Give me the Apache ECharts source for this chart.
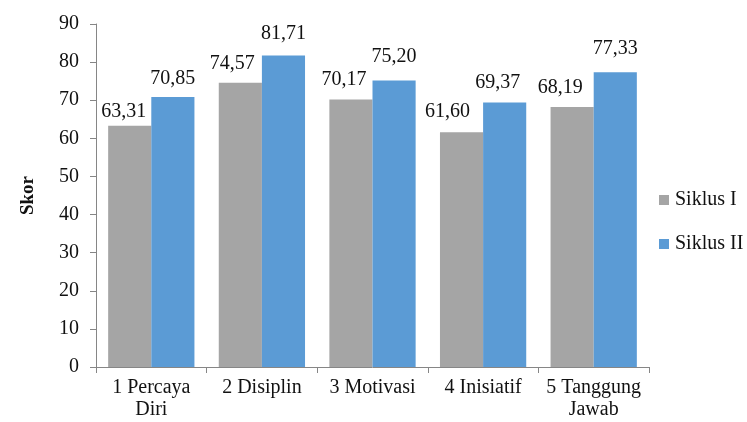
<!DOCTYPE html>
<html>
<head>
<meta charset="utf-8">
<script src="https://cdn.jsdelivr.net/npm/echarts@6/dist/echarts.min.js"></script>
<style>
  html, body { margin: 0; padding: 0; background: #fff; }
  #chart { width: 747px; height: 422px; }
</style>
</head>
<body>
<div id="chart"></div>
<script>
// Aspect categories and scores for each cycle
const categories = ['1 Percaya\nDiri', '2 Disiplin', '3 Motivasi', '4 Inisiatif', '5 Tanggung\nJawab'];
const siklusI = [63.31, 74.57, 70.17, 61.60, 68.19];
const siklusII = [70.85, 81.71, 75.20, 69.37, 77.33];
const seriesNames = ['Siklus I', 'Siklus II'];
const yTicks = { min: 0, max: 90, interval: 10 };

// Small per-label nudges [dx, dy] so neighbouring value labels do not collide
const nudgeI = [[-6, 7], [-8, 2], [-7, 1], [-14, 1], [-12, 2]];
const nudgeII = [[0, 3], [0, -1], [0, -3], [-7, 1], [0, -3]];

const fontFamily = 'Liberation Serif';
const fontSize = 20;
const textColor = '#111111';
const axisColor = '#868686';

const fmt = v => v.toFixed(2).replace('.', ',');

const chart = echarts.init(document.getElementById('chart'), null, { renderer: 'canvas' });

const makeLabel = () => ({
  show: true,
  position: 'top',
  distance: 11,
  color: textColor,
  fontFamily: fontFamily,
  fontSize: fontSize,
  formatter: p => fmt(p.value)
});

const withNudges = (values, nudges) => values.map((v, i) => ({
  value: v,
  label: { offset: nudges[i] }
}));

chart.setOption({
  animation: false,
  backgroundColor: '#ffffff',
  textStyle: { fontFamily: fontFamily },
  grid: { left: 96, right: 98, top: 24, bottom: 55, containLabel: false },
  legend: {
    orient: 'vertical',
    left: 654,
    top: 185,
    itemWidth: 10,
    itemHeight: 10,
    itemGap: 24,
    icon: 'rect',
    textStyle: { fontFamily: fontFamily, fontSize: fontSize, color: textColor, padding: [0, 0, 0, 1] },
    data: seriesNames
  },
  xAxis: {
    type: 'category',
    data: categories,
    boundaryGap: true,
    axisLine: { lineStyle: { color: axisColor, width: 1 } },
    axisTick: { show: true, length: 6, lineStyle: { color: axisColor } },
    axisLabel: {
      interval: 0,
      margin: 10,
      color: textColor,
      fontFamily: fontFamily,
      fontSize: fontSize,
      lineHeight: 22
    }
  },
  yAxis: {
    type: 'value',
    min: yTicks.min,
    max: yTicks.max,
    interval: yTicks.interval,
    name: 'Skor',
    nameLocation: 'middle',
    nameGap: 58,
    nameRotate: 90,
    nameTextStyle: { fontFamily: fontFamily, fontSize: 19, fontWeight: 'bold', color: textColor },
    axisLine: { show: true, lineStyle: { color: axisColor, width: 1 } },
    axisTick: { show: true, length: 6, lineStyle: { color: axisColor } },
    splitLine: { show: false },
    axisLabel: {
      margin: 17,
      color: textColor,
      fontFamily: fontFamily,
      fontSize: fontSize
    }
  },
  series: [
    {
      name: seriesNames[0],
      type: 'bar',
      data: withNudges(siklusI, nudgeI),
      barGap: '0%',
      barCategoryGap: '22%',
      itemStyle: { color: '#A5A5A5' },
      label: makeLabel()
    },
    {
      name: seriesNames[1],
      type: 'bar',
      data: withNudges(siklusII, nudgeII),
      barGap: '0%',
      barCategoryGap: '22%',
      itemStyle: { color: '#5B9BD5' },
      label: makeLabel()
    }
  ]
});
</script>
</body>
</html>
